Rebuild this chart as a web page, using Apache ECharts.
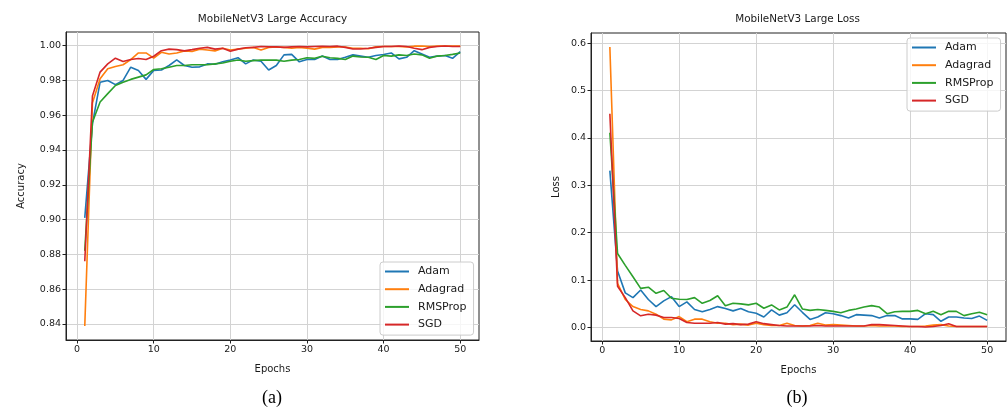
<!DOCTYPE html>
<html><head><meta charset="utf-8">
<script src="https://cdn.jsdelivr.net/npm/echarts@6/dist/echarts.min.js"></script>
<style>html,body{margin:0;padding:0;background:#fff}#c{width:1008px;height:412px}</style>
</head><body><div id="c"></div>
<script>
const epochs = [1,2,3,4,5,6,7,8,9,10,11,12,13,14,15,16,17,18,19,20,21,22,23,24,25,26,27,28,29,30,31,32,33,34,35,36,37,38,39,40,41,42,43,44,45,46,47,48,49,50];
const xTicks = [0,10,20,30,40,50];
const accTicks = [0.84,0.86,0.88,0.90,0.92,0.94,0.96,0.98,1.00];
const lossTicks = [0.0,0.1,0.2,0.3,0.4,0.5,0.6];
const seriesNames = ['Adam','Adagrad','RMSProp','SGD'];
const colors = ['#1f77b4','#ff7f0e','#2ca02c','#d62728'];
const titles = ['MobileNetV3 Large Accuracy','MobileNetV3 Large Loss'];
const captions = ['(a)','(b)'];

const accAdam = [0.901,0.955,0.979,0.980,0.9776,0.980,0.9876,0.9857,0.9806,0.9857,0.986,0.9886,0.9918,0.9886,0.9876,0.9878,0.9895,0.9893,0.9907,0.9918,0.9931,0.9895,0.9918,0.991,0.986,0.9886,0.9947,0.995,0.9907,0.992,0.992,0.994,0.992,0.992,0.9933,0.9947,0.994,0.9933,0.9943,0.9949,0.9958,0.9924,0.9933,0.9971,0.9952,0.9933,0.994,0.9943,0.9927,0.9966];
const accAdagrad = [0.8388,0.967,0.981,0.9867,0.988,0.989,0.992,0.9958,0.9958,0.9928,0.9962,0.9952,0.9958,0.997,0.9966,0.998,0.9975,0.997,0.9985,0.9975,0.998,0.9985,0.999,0.9975,0.999,0.9992,0.999,0.9985,0.999,0.9985,0.998,0.999,0.999,0.9993,0.9992,0.9985,0.9985,0.9982,0.9993,0.9995,0.9995,0.9995,0.9993,0.9997,0.9998,0.9995,0.9997,0.9997,0.9997,0.9997];
const accRMSProp = [0.882,0.956,0.9676,0.9724,0.9771,0.979,0.9806,0.9819,0.9832,0.9863,0.9867,0.9876,0.9886,0.9886,0.989,0.989,0.989,0.9895,0.990,0.991,0.9918,0.991,0.9914,0.9917,0.9917,0.9917,0.991,0.9917,0.992,0.993,0.9927,0.9939,0.993,0.9927,0.992,0.994,0.9935,0.9933,0.992,0.9943,0.994,0.9947,0.9943,0.9952,0.9947,0.9927,0.994,0.9943,0.995,0.9958];
const accSGD = [0.876,0.971,0.9848,0.9895,0.9928,0.9909,0.992,0.9926,0.992,0.9939,0.9971,0.998,0.9977,0.997,0.9977,0.9985,0.999,0.998,0.9985,0.9968,0.998,0.9988,0.999,0.9995,0.9993,0.9993,0.999,0.9993,0.9995,0.9993,0.9995,0.9996,0.9995,0.9997,0.999,0.9981,0.9981,0.9985,0.999,0.9995,0.9995,0.9998,0.9995,0.9985,0.9977,0.999,0.9995,0.9998,0.9995,0.9995];

const lossAdam = [0.331,0.119,0.073,0.063,0.079,0.059,0.044,0.056,0.065,0.044,0.054,0.038,0.033,0.038,0.044,0.040,0.035,0.040,0.033,0.030,0.022,0.037,0.026,0.031,0.048,0.032,0.017,0.022,0.031,0.029,0.025,0.020,0.027,0.026,0.025,0.020,0.025,0.025,0.018,0.018,0.017,0.029,0.027,0.013,0.022,0.022,0.020,0.019,0.024,0.015];
const lossAdagrad = [0.592,0.093,0.059,0.044,0.038,0.035,0.028,0.0175,0.016,0.023,0.012,0.0175,0.0175,0.012,0.009,0.009,0.006,0.007,0.005,0.009,0.006,0.004,0.004,0.009,0.004,0.003,0.004,0.009,0.005,0.006,0.005,0.004,0.003,0.003,0.004,0.003,0.003,0.003,0.002,0.002,0.002,0.003,0.005,0.006,0.003,0.002,0.002,0.002,0.002,0.002];
const lossRMSProp = [0.411,0.156,0.131,0.107,0.0825,0.085,0.072,0.078,0.0615,0.0594,0.059,0.063,0.051,0.057,0.067,0.046,0.051,0.0497,0.0476,0.051,0.0406,0.0476,0.037,0.043,0.069,0.039,0.036,0.038,0.036,0.034,0.031,0.036,0.039,0.043,0.046,0.043,0.029,0.033,0.034,0.034,0.036,0.029,0.034,0.027,0.034,0.034,0.025,0.029,0.032,0.027];
const lossSGD = [0.451,0.087,0.063,0.035,0.0245,0.028,0.026,0.021,0.021,0.019,0.0105,0.009,0.009,0.009,0.0105,0.007,0.008,0.006,0.007,0.012,0.008,0.006,0.004,0.003,0.003,0.003,0.003,0.004,0.003,0.003,0.003,0.003,0.003,0.003,0.006,0.006,0.005,0.004,0.003,0.002,0.002,0.001,0.002,0.004,0.008,0.002,0.002,0.002,0.002,0.002];

const accSeries = [accAdam, accAdagrad, accRMSProp, accSGD];
const lossSeries = [lossAdam, lossAdagrad, lossRMSProp, lossSGD];

const FONT = 'DejaVu Sans';
const TXT = '#1a1a1a';

const grids = [
  {left:66, top:32, width:413, height:308},
  {left:591, top:33, width:415, height:308}
];

function xAx(gi){
  return {
    gridIndex: gi, type:'value', min:-1.45, max:52.45,
    axisLine:{show:true, onZero:false, lineStyle:{color:'#222', width:1}},
    axisTick:{show:true, customValues:xTicks, length:3.5, lineStyle:{color:'#222', width:1}},
    axisLabel:{customValues:xTicks, fontSize:9.5, fontFamily:FONT, color:TXT, margin:5},
    splitLine:{show:true, lineStyle:{color:'#d3d3d3', width:1}},
    name:'Epochs', nameLocation:'middle', nameGap:24,
    nameTextStyle:{fontSize:10, fontFamily:FONT, color:TXT}
  };
}
function yAx(gi, min, max, ticks, dec, name, gap){
  return {
    gridIndex: gi, type:'value', min:min, max:max,
    axisLine:{show:true, onZero:false, lineStyle:{color:'#222', width:1}},
    axisTick:{show:true, customValues:ticks, length:3.5, lineStyle:{color:'#222', width:1}},
    axisLabel:{customValues:ticks, fontSize:9.5, fontFamily:FONT, color:TXT, margin:5,
      formatter: v => Number(v).toFixed(dec)},
    splitLine:{show:true, lineStyle:{color:'#d3d3d3', width:1}},
    name:name, nameLocation:'middle', nameGap:gap, nameRotate:90,
    nameTextStyle:{fontSize:10, fontFamily:FONT, color:TXT}
  };
}

const series = [];
seriesNames.forEach((n,i)=>{
  series.push({type:'line', name:n, xAxisIndex:0, yAxisIndex:0,
    data: epochs.map((e,j)=>[e, accSeries[i][j]]),
    symbol:'none', showSymbol:false, lineStyle:{width:1.6, color:colors[i]}, itemStyle:{color:colors[i]}, z:2+i});
  series.push({type:'line', name:n, xAxisIndex:1, yAxisIndex:1,
    data: epochs.map((e,j)=>[e, lossSeries[i][j]]),
    symbol:'none', showSymbol:false, lineStyle:{width:1.6, color:colors[i]}, itemStyle:{color:colors[i]}, z:2+i});
});

function legend(left, top){
  return {
    left:left, top:top, orient:'vertical', data:seriesNames, icon:'rect',
    itemWidth:24, itemHeight:2, itemGap:4.7,
    textStyle:{fontSize:11, fontFamily:FONT, color:TXT, lineHeight:13, padding:[0,0,0,4]},
    backgroundColor:'rgba(255,255,255,0.8)', borderColor:'#cccccc', borderWidth:1, borderRadius:3,
    padding:[3,7,4,5], selectedMode:false
  };
}

const chart = echarts.init(document.getElementById('c'), null, {renderer:'canvas'});
chart.setOption({
  animation:false,
  backgroundColor:'#fff',
  grid: grids.map(g=>Object.assign({show:true, borderColor:'#222', borderWidth:1, backgroundColor:'transparent', containLabel:false}, g)),
  xAxis:[xAx(0), xAx(1)],
  yAxis:[yAx(0, 0.83075, 1.00785, accTicks, 2, 'Accuracy', 40), yAx(1, -0.0286, 0.6215, lossTicks, 1, 'Loss', 30)],
  legend:[legend(380, 262), legend(907, 38)],
  series: series,
  graphic:[
    {type:'text', x:272.5, y:19, style:{text:titles[0], textAlign:'center', textVerticalAlign:'middle', font:'10.4px "DejaVu Sans"', fill:TXT}},
    {type:'text', x:797.5, y:19, style:{text:titles[1], textAlign:'center', textVerticalAlign:'middle', font:'10.4px "DejaVu Sans"', fill:TXT}},
    {type:'text', x:272, y:398, style:{text:captions[0], textAlign:'center', textVerticalAlign:'middle', font:'18px "Liberation Serif"', fill:'#000'}},
    {type:'text', x:797, y:398, style:{text:captions[1], textAlign:'center', textVerticalAlign:'middle', font:'18px "Liberation Serif"', fill:'#000'}}
  ]
});
</script></body></html>
